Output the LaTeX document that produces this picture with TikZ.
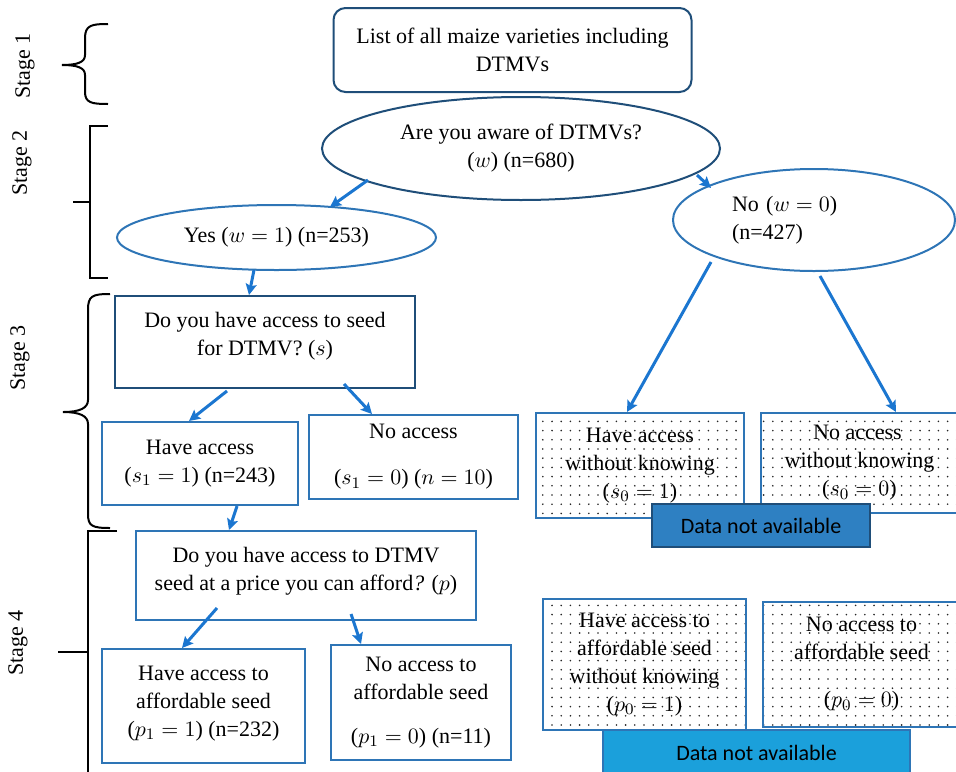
\documentclass[tikz,border=0pt]{standalone}
\usepackage{fontspec}
\setmainfont{Liberation Serif}
\newfontfamily\tnr{Liberation Serif}
\newfontfamily\calib{Carlito}
\usetikzlibrary{shapes.geometric,arrows.meta,patterns.meta,calc}
\definecolor{navy}{HTML}{1F4E79}
\definecolor{mblue}{HTML}{2E75B6}
\definecolor{arrblue}{HTML}{1B76D0}
\definecolor{naA}{HTML}{2E80C2}
\definecolor{naB}{HTML}{1BA0DB}
\begin{document}
\begin{tikzpicture}[x=0.5pt,y=-0.5pt,
  every node/.style={font=\tnr\fontsize{11}{14}\selectfont},
  box/.style={draw=mblue,line width=1pt,inner sep=0pt,align=center,rectangle},
  darkbox/.style={box,draw=navy},
  ell/.style={draw=mblue,line width=1pt,ellipse,inner sep=0pt,align=center},
  dotbox/.style={box,pattern={Dots[distance=4.6pt,radius=0.45pt]},pattern color=black!85},
  nabox/.style={rectangle,line width=1pt,inner sep=0pt,align=center,font=\calib\fontsize{11}{14}\selectfont},
  arr/.style={draw=arrblue,line width=1.5pt,-{Stealth[length=5.5pt,width=5.5pt,inset=1pt]}},
  bracket/.style={draw=black,line width=1pt},
  stagelbl/.style={rotate=90,inner sep=0pt}]
\useasboundingbox (0,0) rectangle (956,771);

% stage labels and brackets
\node[stagelbl] (st1) at (25,66) {Stage 1};
\node[stagelbl] (st2) at (22,163) {Stage 2};
\node[stagelbl] (st3) at (20,358) {Stage 3};
\node[stagelbl] (st4) at (18,643) {Stage 4};

\draw[bracket] (108,24) .. controls (92,24) and (85,25) .. (85,38) -- (85,55)
  .. controls (85,62) and (78,65) .. (62,65)
  .. controls (78,65) and (85,68) .. (85,75) -- (85,92)
  .. controls (85,103) and (92,104) .. (108,104);
\draw[bracket] (108,126) -- (90,126) -- (90,278) -- (108,278);
\draw[bracket] (73,202) -- (90,202);
\draw[bracket] (110,294) .. controls (92,294) and (88,296) .. (88,310) -- (88,400)
  .. controls (88,408) and (80,412) .. (63,412)
  .. controls (80,412) and (88,416) .. (88,424) -- (88,514)
  .. controls (88,526) and (92,528) .. (110,528);
\draw[bracket] (117,531) -- (88,531) -- (88,775);
\draw[bracket] (58,652) -- (88,652);

% stage 1
\node[darkbox,rounded corners=6pt,minimum width=179pt,minimum height=42pt] (list) at (512.5,50)
  {List of all maize varieties including\\DTMVs};
% stage 2
\node[ell,draw=navy,minimum width=199pt,minimum height=51.5pt] (aware) at (521,148.5)
  {Are you aware of DTMVs?\\($w$) (n=680)};
\node[ell,minimum width=159.5pt,minimum height=32.5pt] (yes) at (276.5,237.5)
  {Yes ($w=1$) (n=253)};
\node[ell,minimum width=141pt,minimum height=51pt,text width=82pt,align=left] (no) at (814,220)
  {No ($w=0$)\\(n=427)};
% stage 3
\node[darkbox,minimum width=150pt,minimum height=46pt] (sq) at (265,342)
  {Do you have access to seed\\for DTMV? ($s$)\\[-6pt]\mbox{}};
\node[box,minimum width=98pt,minimum height=41.5pt] (s1) at (200,463.5)
  {Have access\\($s_1=1$) (n=243)};
\node[box,minimum width=104.5pt,minimum height=42pt] (s0) at (413.5,457)
  {No access\\[9pt]($s_1=0$) ($n=10$)};
\node[dotbox,minimum width=104pt,minimum height=52.5pt] (dk1) at (640,465.5)
  {Have access\\without knowing\\($s_0=1$)};
\node[dotbox,minimum width=98.5pt,minimum height=50pt] (dk0) at (859.5,463)
  {\hspace*{-2pt}No access\\without knowing\\($s_0=0$)};
\node[nabox,draw=navy,fill=naA,minimum width=109pt,minimum height=21.5pt] (na1) at (761,525.5)
  {Data not available};
% stage 4
\node[box,minimum width=170pt,minimum height=44.5pt] (pq) at (306,575.5)
  {Do you have access to DTMV\\seed at a price you can afford\textit{?} ($p$)\\[-7pt]\mbox{}};
\node[box,minimum width=101.5pt,minimum height=57pt] (p1) at (203.5,706)
  {Have access to\\affordable seed\\($p_1=1$) (n=232)\\[-9pt]\mbox{}};
\node[box,minimum width=90pt,minimum height=57.5pt] (p0) at (421,702.5)
  {No access to\\affordable seed\\[8pt]($p_1=0$) (n=11)};
\node[dotbox,minimum width=101.5pt,minimum height=65.5pt] (dp1) at (644.5,664.5)
  {Have access to\\affordable seed\\without knowing\\($p_0=1$)};
\node[dotbox,minimum width=98.5pt,minimum height=62.5pt] (dp0) at (861.5,664.5)
  {No access to\\affordable seed\\[9.5pt]($p_0=0$)};
\node[nabox,draw=mblue,fill=naB,minimum width=153.5pt,minimum height=23pt] (na2) at (756.5,753)
  {Data not available};

% connectors
\draw[arr] ([shift={(-153,31.5)}]aware.center) -- ([shift={(53.5,-30.5)}]yes.center);
\draw[arr] ([shift={(176,26.5)}]aware.center) -- ([shift={(-103,-32)}]no.center);
\draw[arr] ([shift={(-22.5,32.5)}]yes.center) -- ([shift={(135,0)}]sq.north west);
\draw[arr] ([shift={(113,2)}]sq.south west) -- ([shift={(88,0)}]s1.north west);
\draw[arr] ([shift={(230,-5)}]sq.south west) -- ([shift={(64,0)}]s0.north west);
\draw[arr] ([shift={(136,0)}]s1.south west) -- ([shift={(94,0)}]pq.north west);
\draw[arr] ([shift={(82,-13)}]pq.south west) -- ([shift={(81,0)}]p1.north west);
\draw[arr] ([shift={(216,-7)}]pq.south west) -- ([shift={(31,0)}]p0.north west);
\draw[arr] ([shift={(-103,42)}]no.center) -- ([shift={(92,0)}]dk1.north west);
\draw[arr] ([shift={(6,56)}]no.center) -- ([shift={(136,0)}]dk0.north west);
\end{tikzpicture}
\end{document}
